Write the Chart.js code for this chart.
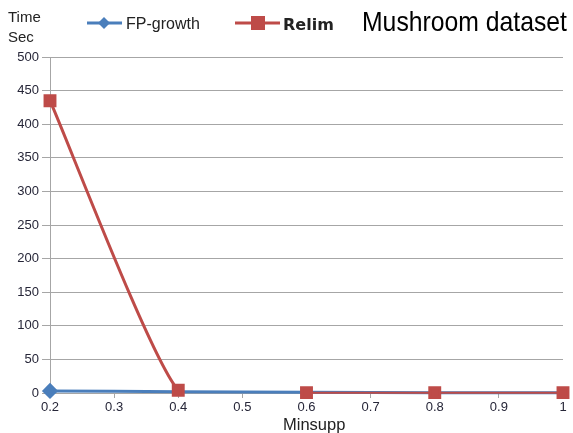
<!DOCTYPE html>
<html>
<head>
<meta charset="utf-8">
<script src="https://cdn.jsdelivr.net/npm/chart.js@4/dist/chart.umd.min.js"></script>
<style>
  html, body { margin: 0; padding: 0; background: #fff; }
  #wrap { position: relative; width: 573px; height: 433px; }
</style>
</head>
<body>
<div id="wrap"><canvas id="c" width="573" height="433"></canvas></div>
<script>
// Minimum support levels (x) and run times in seconds
const minsupp = [0.2, 0.4, 0.6, 0.8, 1.0];
const fpGrowth = [3, 2, 1, 0.5, 0.3];
const relim = [435, 4, 0.5, 0.5, 0.5];
const yTicks = [0, 50, 100, 150, 200, 250, 300, 350, 400, 450, 500];

const BLUE = '#4a7ebb';
const RED = '#be4b48';
const GRID = '#a6a6a6';
const LABEL = '#262638';

// Header: axis unit, legend entries and dataset name
const headerPlugin = {
  id: 'header',
  afterDraw(chart) {
    const ctx = chart.ctx;
    ctx.save();
    ctx.textBaseline = 'alphabetic';
    ctx.fillStyle = '#222';
    ctx.font = '15px "Liberation Sans", Arial, sans-serif';
    ctx.fillText('Time', 8, 22);
    ctx.fillText('Sec', 8, 42);

    // FP-growth legend entry
    ctx.strokeStyle = BLUE; ctx.lineWidth = 3;
    ctx.beginPath(); ctx.moveTo(87, 23); ctx.lineTo(122, 23); ctx.stroke();
    ctx.fillStyle = BLUE;
    ctx.beginPath();
    ctx.moveTo(104, 17); ctx.lineTo(110, 23); ctx.lineTo(104, 29); ctx.lineTo(98, 23);
    ctx.closePath(); ctx.fill();
    ctx.fillStyle = '#222';
    ctx.font = '16px "Liberation Sans", Arial, sans-serif';
    ctx.fillText('FP-growth', 126, 29);

    // Relim legend entry
    ctx.strokeStyle = RED; ctx.lineWidth = 3;
    ctx.beginPath(); ctx.moveTo(235, 23); ctx.lineTo(280, 23); ctx.stroke();
    ctx.fillStyle = RED;
    ctx.fillRect(251, 16, 14, 14);
    ctx.fillStyle = '#222';
    ctx.font = 'bold 16px "DejaVu Sans", sans-serif';
    ctx.fillText('Relim', 283, 30);

    // Dataset name, condensed to its box
    ctx.fillStyle = '#000';
    ctx.font = '28px "Liberation Sans", Arial, sans-serif';
    const title = 'Mushroom dataset';
    const w = ctx.measureText(title).width;
    ctx.translate(362, 31);
    ctx.scale(205 / w, 1);
    ctx.fillText(title, 0, 0);
    ctx.setTransform(1, 0, 0, 1, 0, 0);

    // x axis title
    ctx.fillStyle = '#222';
    ctx.font = '16.5px "Liberation Sans", Arial, sans-serif';
    ctx.fillText('Minsupp', 283, 430);
    ctx.restore();
  }
};

new Chart(document.getElementById('c'), {
  type: 'line',
  data: {
    datasets: [
      {
        label: 'FP-growth',
        data: minsupp.map((x, i) => ({ x, y: fpGrowth[i] })),
        borderColor: BLUE,
        backgroundColor: BLUE,
        borderWidth: 3,
        pointStyle: 'rectRot',
        pointRadius: [6, 0, 0, 0, 0],
        tension: 0.15,
        clip: false,
        order: 1
      },
      {
        label: 'Relim',
        data: minsupp.map((x, i) => ({ x, y: relim[i] })),
        borderColor: RED,
        backgroundColor: RED,
        borderWidth: 3,
        pointStyle: 'rect',
        pointRadius: 7,
        tension: 0.15,
        clip: false,
        order: 0,
        segment: {
          // the 0.4 -> 0.6 stretch runs beneath the FP-growth line
          borderColor: c => c.p0DataIndex === 1 ? 'rgba(0,0,0,0)' : RED,
          borderWidth: c => c.p0DataIndex >= 2 ? 2 : 3
        }
      }
    ]
  },
  options: {
    responsive: false,
    animation: false,
    events: [],
    layout: { padding: { top: 57, right: 6, left: 0, bottom: 0 } },
    plugins: { legend: { display: false }, tooltip: { enabled: false } },
    scales: {
      x: {
        type: 'linear',
        min: 0.2, max: 1,
        afterFit(s) { s.height = 40; },
        ticks: {
          stepSize: 0.1,
          color: LABEL,
          font: { family: '"Liberation Sans", Arial, sans-serif', size: 13 },
          padding: 2,
          maxRotation: 0,
          callback: v => String(Number(v.toFixed(1)))
        },
        grid: { drawOnChartArea: false, drawTicks: true, tickLength: 5, color: GRID },
        border: { display: true, color: GRID }
      },
      y: {
        min: 0, max: 500,
        afterFit(s) { s.width = 50; },
        afterBuildTicks(s) { s.ticks = yTicks.map(v => ({ value: v })); },
        ticks: {
          color: LABEL,
          font: { family: '"Liberation Sans", Arial, sans-serif', size: 13 },
          padding: 3
        },
        grid: { color: GRID, tickLength: 8 },
        border: { display: true, color: GRID }
      }
    }
  },
  plugins: [headerPlugin]
});
</script>
</body>
</html>
